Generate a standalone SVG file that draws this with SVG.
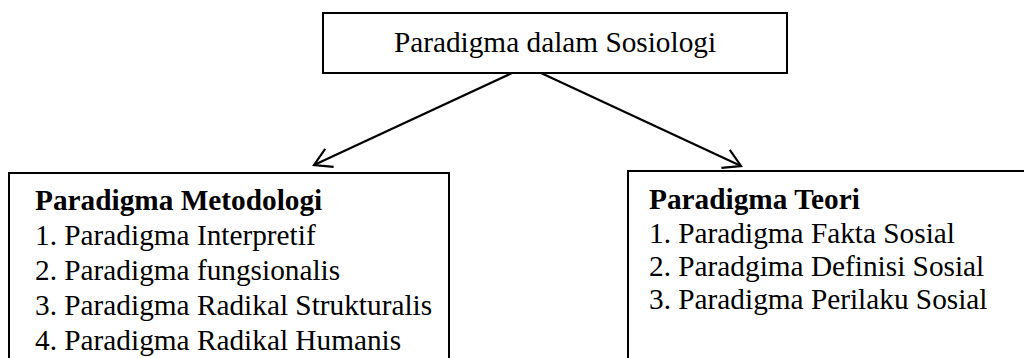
<svg xmlns="http://www.w3.org/2000/svg" width="1024" height="358" viewBox="0 0 1024 358">
<style>
.box{fill:#fff;stroke:#000;stroke-width:2}
.t{font-family:"Liberation Serif","Times New Roman",serif;font-size:29.3px;fill:#000}
.b{font-weight:bold}
.conn{stroke:#000;stroke-width:2.2;fill:none}
</style>
<defs>
<marker id="arr" markerWidth="24" markerHeight="24" refX="20" refY="12" orient="auto" markerUnits="userSpaceOnUse">
<path d="M3,2 L20,12 L3,22" fill="none" stroke="#000" stroke-width="2.2"/>
</marker>
</defs>
<rect width="1024" height="358" fill="#fff"/>
<g id="root">
<rect class="box" x="323" y="13" width="464" height="60"/>
<text class="t" x="555" y="52" text-anchor="middle">Paradigma dalam Sosiologi</text>
</g>
<g id="metodologi">
<rect class="box" x="9" y="173" width="440" height="200"/>
<text class="t b" x="35" y="210">Paradigma Metodologi</text>
<text class="t" x="35" y="245">1. Paradigma Interpretif</text>
<text class="t" x="35" y="280">2. Paradigma fungsionalis</text>
<text class="t" x="35" y="315">3. Paradigma Radikal Strukturalis</text>
<text class="t" x="35" y="350">4. Paradigma Radikal Humanis</text>
</g>
<g id="teori">
<rect class="box" x="628" y="171" width="420" height="200"/>
<text class="t b" x="649" y="209">Paradigma Teori</text>
<text class="t" x="649" y="243">1. Paradigma Fakta Sosial</text>
<text class="t" x="649" y="276">2. Paradgima Definisi Sosial</text>
<text class="t" x="649" y="309">3. Paradigma Perilaku Sosial</text>
</g>
<g id="connectors">
<line class="conn" x1="512" y1="73" x2="314" y2="165" marker-end="url(#arr)"/>
<line class="conn" x1="541" y1="73" x2="741" y2="166" marker-end="url(#arr)"/>
</g>
</svg>
